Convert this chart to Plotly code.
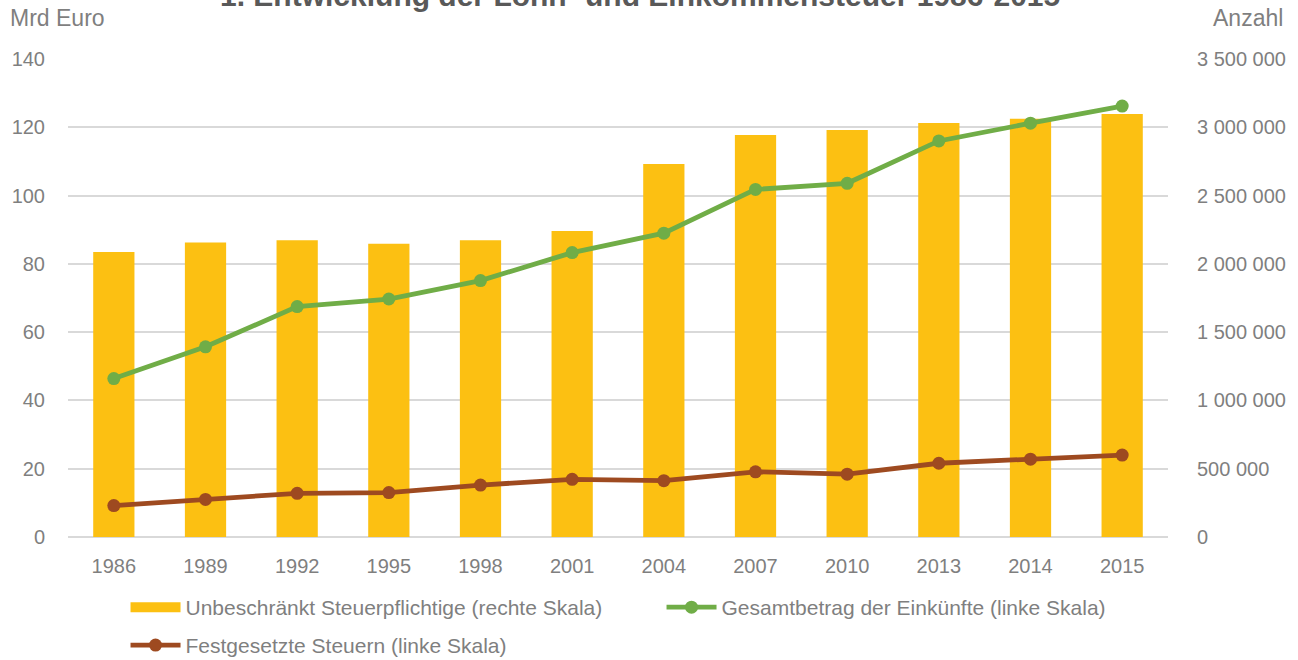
import plotly.graph_objects as go

years = ["1986", "1989", "1992", "1995", "1998", "2001", "2004", "2007", "2010", "2013", "2014", "2015"]
steuerpflichtige = [2086000, 2157000, 2172000, 2147000, 2172000, 2240000, 2731000, 2943000, 2980000, 3031000, 3062000, 3097000]
gesamtbetrag = [46.4, 55.7, 67.5, 69.7, 75.1, 83.3, 89.0, 101.8, 103.6, 116.0, 121.2, 126.2]
festgesetzt = [9.2, 11.0, 12.8, 13.0, 15.2, 16.9, 16.5, 19.1, 18.4, 21.6, 22.8, 24.0]

title_text = "1. Entwicklung der Lohn- und Einkommensteuer 1986-2015"
left_title = "Mrd Euro"
right_title = "Anzahl"
name_bar = "Unbeschränkt Steuerpflichtige (rechte Skala)"
name_green = "Gesamtbetrag der Einkünfte (linke Skala)"
name_brown = "Festgesetzte Steuern (linke Skala)"

FONT = "Liberation Sans"
GRAY = "#7F7F7F"
YELLOW = "#FCC012"
GREEN = "#70AD47"
BROWN = "#9E4A20"

fig = go.Figure()
fig.add_trace(go.Bar(
    x=years, y=steuerpflichtige, name=name_bar, showlegend=False,
    marker=dict(color=YELLOW, line=dict(width=0)), yaxis="y",
))
# legend-only entry with a wide rectangular swatch for the bars
fig.add_trace(go.Scatter(
    x=[None], y=[None], name=name_bar, mode="lines",
    line=dict(color=YELLOW, width=14), yaxis="y", legend="legend",
))
fig.add_trace(go.Scatter(
    x=years, y=gesamtbetrag, name=name_green,
    mode="lines+markers", line=dict(color=GREEN, width=4.8),
    marker=dict(color=GREEN, size=13), yaxis="y2", legend="legend",
))
fig.add_trace(go.Scatter(
    x=years, y=festgesetzt, name=name_brown,
    mode="lines+markers", line=dict(color=BROWN, width=4.8),
    marker=dict(color=BROWN, size=13), yaxis="y2", legend="legend2",
))

legend_common = dict(
    orientation="h", xanchor="left", yanchor="top",
    entrywidth=471, entrywidthmode="pixels", itemwidth=50,
    font=dict(family=FONT, size=21, color=GRAY), traceorder="normal",
    bgcolor="rgba(0,0,0,0)",
)

fig.update_layout(
    width=1298, height=660,
    margin=dict(l=68, r=130, t=59, b=123, autoexpand=False),
    paper_bgcolor="white", plot_bgcolor="white",
    font=dict(family=FONT, size=20, color=GRAY),
    separators=", ",
    bargap=0.55,
    showlegend=True,
    legend=dict(x=0.0523, y=-0.1046, **legend_common),
    legend2=dict(x=0.0523, y=-0.184, **legend_common),
    xaxis=dict(
        type="category", range=[-0.5, 11.5], showgrid=False, showline=False, ticks="",
        ticklabelstandoff=15, tickfont=dict(size=20, color=GRAY),
    ),
    yaxis=dict(
        side="right", range=[0, 3500000], dtick=500000, tickformat=",d",
        showgrid=True, gridcolor="#D9D9D9", gridwidth=1.5,
        zeroline=True, zerolinecolor="#D9D9D9", zerolinewidth=2,
        ticks="", ticklabelstandoff=28, tickfont=dict(size=20, color=GRAY),
        showline=False,
    ),
    yaxis2=dict(
        side="left", overlaying="y", range=[0, 140], dtick=20,
        showgrid=False, zeroline=False, ticks="", ticklabelstandoff=22,
        tickfont=dict(size=20, color=GRAY), showline=False,
    ),
    annotations=[
        dict(text="<b>" + title_text + "</b>", xref="paper", x=0.52, yref="paper", y=1,
             yanchor="middle", yshift=64, showarrow=False,
             font=dict(family=FONT, size=30, color="#595959")),
        dict(text=left_title, xref="paper", x=0, xshift=-60, xanchor="left",
             yref="paper", y=1, yshift=41, yanchor="middle", showarrow=False,
             font=dict(family=FONT, size=23, color=GRAY)),
        dict(text=right_title, xref="paper", x=1, xshift=117, xanchor="right",
             yref="paper", y=1, yshift=41, yanchor="middle", showarrow=False,
             font=dict(family=FONT, size=23, color=GRAY)),
    ],
)

fig.write_html("out.html", config={"displayModeBar": False},
               post_script="document.body.style.margin='0px';")
